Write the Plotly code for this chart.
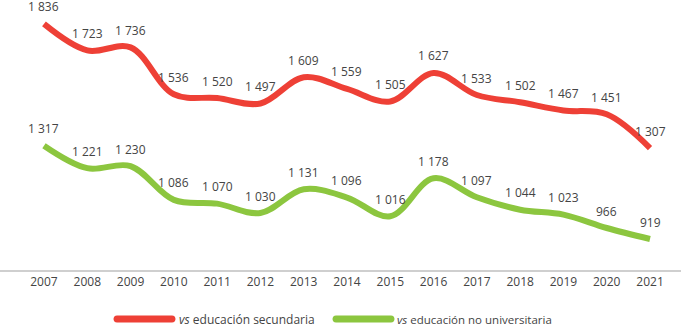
import plotly.graph_objects as go

years = list(range(2007, 2022))
secundaria = [1836, 1723, 1736, 1536, 1520, 1497, 1609, 1559, 1505, 1627, 1533, 1502, 1467, 1451, 1307]
no_universitaria = [1317, 1221, 1230, 1086, 1070, 1030, 1131, 1096, 1016, 1178, 1097, 1044, 1023, 966, 919]
series_names = ["<i>vs</i> educación secundaria", "<i>vs</i> educación no universitaria"]
colors = ["#EE4036", "#8CC63F"]

W, H = 681, 325
PLOT_H = 270


def fmt(v):
    return f"{v:,}".replace(",", " ")


fig = go.Figure()
for vals, name, col in zip([secundaria, no_universitaria], series_names, colors):
    fig.add_trace(go.Scatter(
        x=years, y=vals, mode="lines", name=name,
        line=dict(color=col, width=6, shape="spline", smoothing=1.0),
        hoverinfo="skip", showlegend=False,
    ))

annotations = []
for vals in [secundaria, no_universitaria]:
    for x, v in zip(years, vals):
        annotations.append(dict(
            x=x, y=v, text=fmt(v), showarrow=False, yshift=17,
            font=dict(family="Open Sans, sans-serif", size=12, color="#444"),
        ))

# manual legend (pixel layout -> paper coords)
shapes = []
legend_items = [(117, 172, 177, 12), (336, 391, 395, 11.5)]
ly_px = 319
ly = (PLOT_H - ly_px) / PLOT_H
r = 3.5
dx, dy = r / W, r / PLOT_H
for (x0p, x1p, tx, fs), name, col in zip(legend_items, series_names, colors):
    x0, x1 = x0p / W, x1p / W
    k = 1.33
    path = (f"M {x0},{ly + dy} L {x1},{ly + dy} "
            f"C {x1 + k * dx},{ly + dy} {x1 + k * dx},{ly - dy} {x1},{ly - dy} "
            f"L {x0},{ly - dy} "
            f"C {x0 - k * dx},{ly - dy} {x0 - k * dx},{ly + dy} {x0},{ly + dy} Z")
    shapes.append(dict(type="path", xref="paper", yref="paper", path=path,
                       fillcolor=col, line=dict(width=0)))
    annotations.append(dict(
        x=tx / W, y=ly, xref="paper", yref="paper", xanchor="left", yanchor="middle",
        text=name, showarrow=False,
        font=dict(family="Open Sans, sans-serif", size=fs, color="#444"),
    ))

fig.update_layout(
    width=W, height=H,
    margin=dict(l=0, r=0, t=0, b=H - PLOT_H, autoexpand=False),
    paper_bgcolor="white", plot_bgcolor="white",
    font=dict(family="Open Sans, sans-serif", size=12, color="#444"),
    showlegend=False,
    annotations=annotations,
    shapes=shapes,
    xaxis=dict(range=[2005.984, 2021.716], tickmode="array", tickvals=years,
               ticktext=[str(y) for y in years], showgrid=False, zeroline=False,
               showline=True, linecolor="#cfcfcf", linewidth=2, ticks="",
               tickfont=dict(size=12, color="#444")),
    yaxis=dict(range=[787, 1938], visible=False, showgrid=False, zeroline=False),
)

fig.write_html("out.html", config={"displayModeBar": False},
               post_script="document.body.style.margin='0';")
